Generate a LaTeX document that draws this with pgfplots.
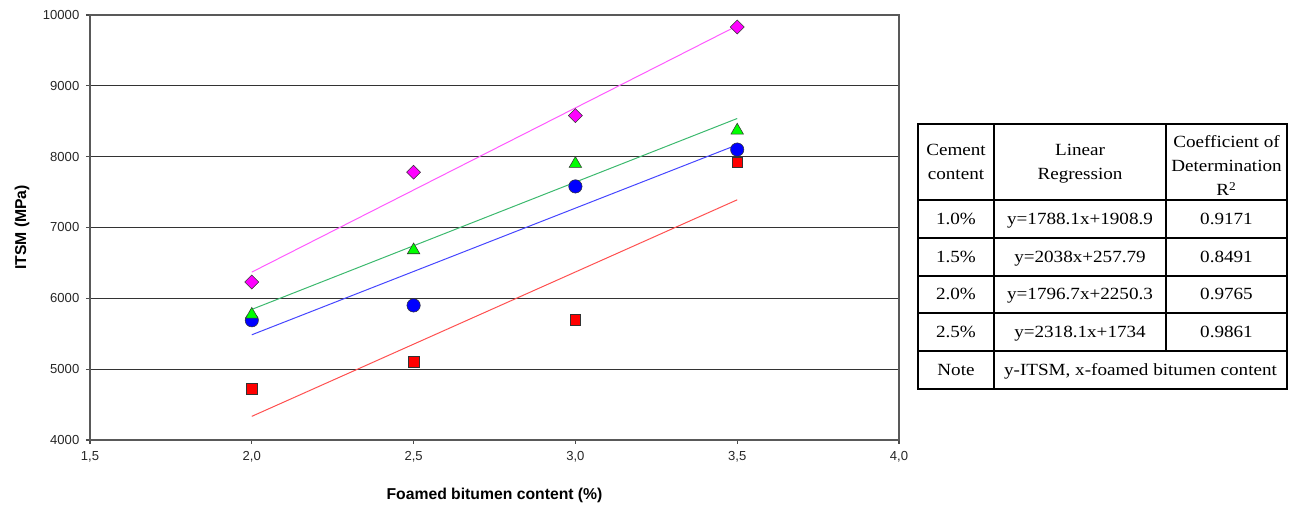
\documentclass[border=0pt]{standalone}
\usepackage{fontspec}
\setmainfont{Liberation Serif}[FakeStretch=1.12]
\newfontfamily\sansf{Liberation Sans}
\usepackage{pgfplots}
\pgfplotsset{compat=1.18}
\definecolor{cblue}{RGB}{0,0,255}
\definecolor{cred}{RGB}{255,0,0}
\definecolor{cgreen}{RGB}{0,255,0}
\definecolor{cmag}{RGB}{255,0,255}
\definecolor{lblue}{RGB}{70,70,255}
\definecolor{lred}{RGB}{255,80,80}
\definecolor{lgreen}{RGB}{60,185,110}
\definecolor{lmag}{RGB}{255,90,255}
\begin{document}
\begin{tikzpicture}[x=0.75pt,y=0.75pt]
\useasboundingbox (0,0) rectangle (1293,506);
\begin{axis}[
  at={(67.5pt,49.5pt)}, anchor=south west,
  scale only axis, width=606.75pt, height=318.75pt,
  xmin=1.5, xmax=4, ymin=4000, ymax=10000,
  xtick={1.5,2,2.5,3,3.5,4},
  xticklabels={{1,5},{2,0},{2,5},{3,0},{3,5},{4,0}},
  ytick={4000,5000,...,10000},
  scaled y ticks=false,
  tick align=outside, xtick pos=left, ytick pos=left,
  major tick length=3pt,
  tick style={black!70, line width=0.8pt},
  axis line style={black!65, line width=1.2pt},
  ymajorgrids, major grid style={black!80, line width=0.9pt},
  ticklabel style={font=\sansf\fontsize{9.8}{11}\selectfont, text=black!85},
  xticklabel style={yshift=-2pt},
  yticklabel style={xshift=-1.5pt},
  /pgf/number format/1000 sep={},
  /pgf/number format/assume math mode=true,
  xlabel={Foamed bitumen content (\%)}, ylabel={ITSM (MPa)},
  label style={font=\sansf\bfseries\fontsize{11.8}{13}\selectfont},
  xlabel style={at={(axis description cs:0.5,-0.1294)}, anchor=center},
  ylabel style={at={(axis description cs:-0.0841,0.5)}, anchor=center},
]
% trend lines
\addplot[no marks, color=lblue, line width=0.75pt] coordinates {(2,5485.1) (3.5,8167.25)};
\addplot[no marks, color=lred, line width=0.75pt] coordinates {(2,4333.79) (3.5,7390.79)};
\addplot[no marks, color=lgreen, line width=0.75pt] coordinates {(2,5843.7) (3.5,8538.75)};
\addplot[no marks, color=lmag, line width=0.75pt] coordinates {(2,6370.2) (3.5,9847.35)};
% data points
\addplot[only marks, mark=*, mark size=5pt, mark options={fill=cblue, draw=black!80, line width=0.4pt}]
  coordinates {(2,5690) (2.5,5900) (3,7580) (3.5,8100)};
\addplot[only marks, mark=square*, mark size=4pt, mark options={fill=cred, draw=black!80, line width=0.5pt}]
  coordinates {(2,4720) (2.5,5100) (3,5700) (3.5,7920)};
\addplot[only marks, mark=triangle*, mark size=5.4pt, mark options={fill=cgreen, draw=black!80, line width=0.4pt}]
  coordinates {(2,5770) (2.5,6680) (3,7900) (3.5,8370)};
\addplot[only marks, mark=square*, mark size=3.7pt, mark options={rotate=45, fill=cmag, draw=black!80, line width=0.4pt}]
  coordinates {(2,6230) (2.5,7780) (3,8580) (3.5,9830)};
\end{axis}
% table
\begin{scope}[line width=1.2pt]
\draw (918,117) rectangle (1287,382);
\foreach \yy in {306,268,230,193,155} \draw (918,\yy) -- (1287,\yy);
\draw (994,117) -- (994,382);
\draw (1166,155) -- (1166,382);
\end{scope}
\begin{scope}[every node/.style={anchor=base, inner sep=0pt, font=\fontsize{12.8}{14}\selectfont}]
\node at (956,350) {Cement};
\node at (956,326) {content};
\node at (1080,350) {Linear};
\node at (1080,326) {Regression};
\node at (1226.5,358) {Coefficient of};
\node at (1226.5,334) {Determination};
\node at (1226.5,310) {R\textsuperscript{2}};
\node at (956,281.5) {1.0\%};
\node at (1080,281.5) {y=1788.1x+1908.9};
\node at (1226.5,281.5) {0.9171};
\node at (956,243.5) {1.5\%};
\node at (1080,243.5) {y=2038x+257.79};
\node at (1226.5,243.5) {0.8491};
\node at (956,206) {2.0\%};
\node at (1080,206) {y=1796.7x+2250.3};
\node at (1226.5,206) {0.9765};
\node at (956,168.5) {2.5\%};
\node at (1080,168.5) {y=2318.1x+1734};
\node at (1226.5,168.5) {0.9861};
\node at (956,130.5) {Note};
\node at (1140.5,130.5) {y-ITSM, x-foamed bitumen content};
\end{scope}
\end{tikzpicture}
\end{document}
